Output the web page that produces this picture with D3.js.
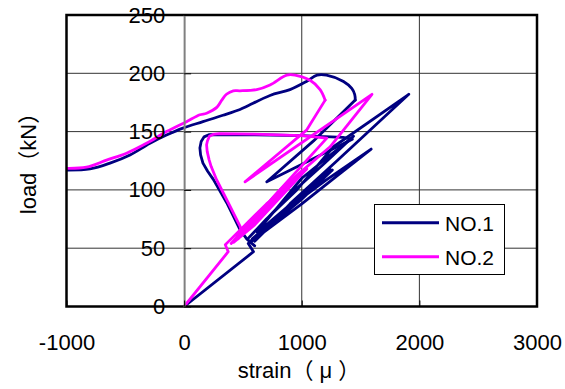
<!DOCTYPE html>
<html lang="en">
<head>
<meta charset="UTF-8">
<title>load - strain</title>
<style>
    body { margin: 0; background: #fff; }
    svg { display: block; }
    text { font-family: 'Liberation Sans', Arial, 'Noto Sans CJK JP', sans-serif; fill: #000; }
</style>
</head>
<body>
<svg width="565" height="389"></svg>
<script src="https://d3js.org/d3.v7.min.js"></script>
<script>
// axis ticks
var xTicks = [-1000, 0, 1000, 2000, 3000];
var yTicks = [0, 50, 100, 150, 200, 250];
var seriesNames = ["NO.1", "NO.2"];

// NO.1 (strain, load) - cyclic loading from the origin
var no1Cycles = [[0,0],[590,47],[545,54],[575,57],[800,75],[1000,92],[1260,117],[1000,96],[700,70],[560,55],
    [1000,88],[1300,112],[1590,135],[1200,108],[800,78],[580,58],[820,80],[1100,106],[1240,118],[900,86],
    [600,56],[900,88],[1300,125],[1910,182],[1270,137],[958,100],[700,75],[540,58],[900,96],[1185,122],
    [1440,146],[1000,110],[620,64]];
// NO.1 - envelope up to the hook
var no1Envelope = [[-1000,117],[-800,118],[-630,123],[-460,130],[-290,140],[-150,147],[-10,153],[160,158.5],
    [330,164],[475,169],[530,171.5],[730,181],[900,186],[1040,193],[1130,198.5],[1210,198.5],[1355,193],
    [1425,187],[1450,182],[1455,177]];
// NO.1 - unloading back through the loop
var no1Return = [[1455,177],[1100,142],[703,107],[1430,143.5],[1350,145],[1000,146.5],[600,147.3],
    [300,147.5],[210,147.3],[170,145.5],[145,141.5],[134,136],[140,130],[160,123],[200,116],[248,109],
    [362,89],[475,66],[532,58],[600,52]];

// NO.2 (strain, load)
var no2Cycles = [[0,0],[375,47],[350,53],[370,55],[700,88],[958,109],[700,84],[460,58],[820,96],[1043,118],
    [600,70],[420,55],[760,92],[1000,116],[700,86],[400,54],[1213,144.4],[1000,146.5],[600,147.8],[300,148.2],
    [245,147.6],[215,146],[198,142],[191,138.7],[196,133],[212,126],[230,120],[276,108.7],[390,86],[475,69],
    [489,63],[430,57]];
var no2Envelope = [[-1000,118.5],[-830,119.5],[-660,125.5],[-490,131.5],[-320,140],[-150,150],[20,158.5],
    [134,164.4],[191,165.8],[280,171],[320,177],[360,182],[418,185],[475,185],[617,186],[730,190],
    [873,198.5],[943,198.5],[1071,194],[1156,186],[1199,177]];
var no2Return = [[1199,177],[1043,151.5],[518,107],[1597,182],[1241,137],[815,100],[475,62],[440,58]];

var colors = ["#000080", "#ff00ff"];

var svg = d3.select("svg");
var plotL = 66.5, plotR = 537, plotT = 15, plotB = 306.5;

var x = d3.scaleLinear().domain([-1000, 3000]).range([plotL, plotR]);
var y = d3.scaleLinear().domain([0, 250]).range([plotB, plotT]);

svg.append("clipPath").attr("id", "plot")
    .append("rect")
    .attr("x", plotL).attr("y", plotT)
    .attr("width", plotR - plotL).attr("height", plotB - plotT);

// grid
svg.append("g").selectAll("line")
    .data(yTicks.filter(function(d) { return d > 0 && d < 250; }))
    .enter().append("line")
    .attr("x1", plotL).attr("x2", plotR)
    .attr("y1", function(d) { return y(d); })
    .attr("y2", function(d) { return y(d); })
    .attr("stroke", "#333").attr("stroke-width", 1);

svg.append("g").selectAll("line")
    .data([1000, 2000])
    .enter().append("line")
    .attr("y1", plotT).attr("y2", plotB)
    .attr("x1", function(d) { return x(d); })
    .attr("x2", function(d) { return x(d); })
    .attr("stroke", "#333").attr("stroke-width", 1);

// y axis crosses at strain 0
var yAxis = svg.append("g")
    .attr("transform", "translate(" + x(0) + ",0)")
    .call(d3.axisLeft(y).tickValues(yTicks).tickFormat(d3.format("d"))
        .tickSizeInner(-7).tickSizeOuter(0).tickPadding(19));
yAxis.select(".domain").attr("stroke", "#808080").attr("stroke-width", 2);
yAxis.selectAll(".tick line").attr("stroke", "#000");
yAxis.selectAll("text").attr("font-size", 22).attr("font-family", null);

var xAxis = svg.append("g")
    .attr("transform", "translate(0," + y(0) + ")")
    .call(d3.axisBottom(x).tickValues(xTicks).tickFormat(function(d) { return d < 0 ? "-" + (-d) : d; })
        .tickSizeInner(-6).tickSizeOuter(0).tickPadding(28));
xAxis.select(".domain").remove();
xAxis.selectAll(".tick line").attr("stroke", "#000");
xAxis.selectAll("text").attr("font-size", 22).attr("font-family", null);

// series
var line = d3.line()
    .x(function(d) { return x(d[0]); })
    .y(function(d) { return y(d[1]); });
var smooth = d3.line()
    .x(function(d) { return x(d[0]); })
    .y(function(d) { return y(d[1]); })
    .curve(d3.curveCatmullRom.alpha(0.5));

var plot = svg.append("g").attr("clip-path", "url(#plot)");
[[no1Cycles, no1Envelope, no1Return], [no2Cycles, no2Envelope, no2Return]].forEach(function(parts, i) {
    parts.forEach(function(p, j) {
        plot.append("path")
            .datum(p)
            .attr("fill", "none")
            .attr("stroke", colors[i])
            .attr("stroke-width", 2.8)
            .attr("stroke-linejoin", "round")
            .attr("stroke-linecap", "round")
            .attr("d", j == 1 ? smooth : line);
    });
});

// frame
svg.append("rect")
    .attr("x", plotL).attr("y", plotT)
    .attr("width", plotR - plotL).attr("height", plotB - plotT)
    .attr("fill", "none").attr("stroke", "#000").attr("stroke-width", 2.5);

// tick labels sit on top of the lines
yAxis.raise();
xAxis.raise();

svg.append("text")
    .attr("x", 299).attr("y", 378)
    .attr("text-anchor", "middle")
    .attr("font-size", 22)
    .text("strain（ μ ）");

svg.append("text")
    .attr("transform", "translate(36,158) rotate(-90)")
    .attr("text-anchor", "middle")
    .attr("font-size", 22)
    .text("load（kN）");

// legend
var lg = svg.append("g");
lg.append("rect")
    .attr("x", 374.5).attr("y", 204.5).attr("width", 130).attr("height", 70)
    .attr("fill", "#fff").attr("stroke", "#000").attr("stroke-width", 1);
seriesNames.forEach(function(name, i) {
    var ly = 222.7 + i * 34;
    lg.append("line")
        .attr("x1", 382).attr("x2", 439).attr("y1", ly).attr("y2", ly)
        .attr("stroke", colors[i]).attr("stroke-width", 3);
    lg.append("text")
        .attr("x", 445).attr("y", ly + 8)
        .attr("font-size", 21)
        .text(name);
});
</script>
</body>
</html>
